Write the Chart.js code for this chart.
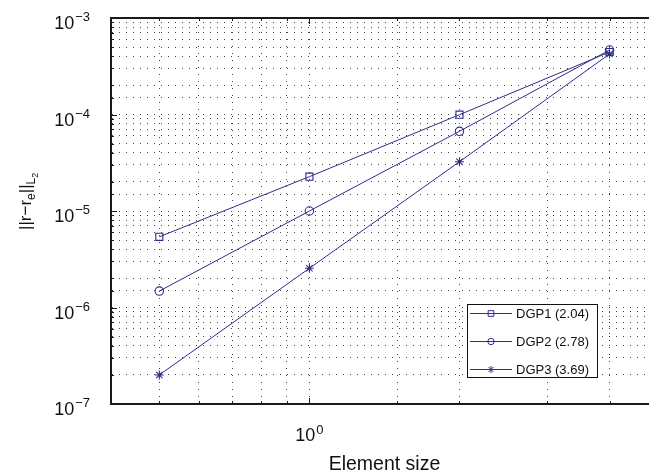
<!DOCTYPE html>
<html>
<head>
<meta charset="utf-8">
<script src="https://cdn.jsdelivr.net/npm/chart.js@4/dist/chart.umd.min.js"></script>
<style>
  html, body { margin: 0; padding: 0; background: #fff; overflow: hidden; }
  #wrap { width: 649px; height: 476px; position: relative; overflow: hidden; }
  canvas { display: block; }
</style>
</head>
<body>
<div id="wrap"><canvas id="c" width="664" height="476"></canvas></div>
<script>
// ---- data ----
const elementSize = [0.5, 1, 2, 4];
const dgp1 = [5.4e-6, 2.27e-5, 9.95e-5, 4.44e-4];
const dgp2 = [1.48e-6, 1.0e-5, 6.7e-5, 4.66e-4];
const dgp3 = [2.0e-7, 2.55e-6, 3.24e-5, 4.24e-4];
const seriesLabels = ['DGP1 (2.04)', 'DGP2 (2.78)', 'DGP3 (3.69)'];
const xAxisTitle = 'Element size';

const LINE = '#2f2c8a';
const TEXT = '#111';
const FONT = "'Liberation Sans', Arial, sans-serif";

function decadeExp(v) {
  const l = Math.log10(v);
  const r = Math.round(l);
  return Math.abs(l - r) < 1e-6 ? r : null;
}
function pts(ys) { return elementSize.map((x, i) => ({x: x, y: ys[i]})); }

const styles = ['rect', 'circle', 'star'];
const radii = [5, 4.2, 4.5];
const datasets = [dgp1, dgp2, dgp3].map((ys, i) => ({
  label: seriesLabels[i],
  data: pts(ys),
  borderColor: LINE,
  backgroundColor: 'rgba(0,0,0,0)',
  borderWidth: 1,
  pointStyle: styles[i],
  pointRadius: radii[i],
  pointBorderWidth: 1.1,
  pointBorderColor: LINE,
  pointBackgroundColor: 'rgba(0,0,0,0)',
  tension: 0
}));

// draw "10^n" with a raised exponent
function drawPow(ctx, n, x, y, align, baseDy, expDy) {
  const base = '10';
  const ex = String(n).replace('-', '\u2212');
  ctx.font = '18px ' + FONT;
  const wb = ctx.measureText(base).width;
  ctx.font = '13px ' + FONT;
  const we = ctx.measureText(ex).width;
  const total = wb + 1 + we;
  let x0 = align === 'right' ? x - total : x - total / 2;
  ctx.textAlign = 'left';
  ctx.textBaseline = 'alphabetic';
  ctx.fillStyle = TEXT;
  ctx.font = '18px ' + FONT;
  ctx.fillText(base, x0, y + baseDy);
  ctx.font = '13px ' + FONT;
  ctx.fillText(ex, x0 + wb + 1, y + expDy);
}

// frame (top line), inward tick marks, decade tick labels
const framePlugin = {
  id: 'frame',
  afterDatasetsDraw(chart) {
    const {ctx, chartArea: a, scales: {x, y}} = chart;
    ctx.save();
    ctx.strokeStyle = '#1a1a1a';
    ctx.lineWidth = 1;
    ctx.beginPath();
    x.ticks.forEach(t => {
      const px = Math.round(x.getPixelForValue(t.value)) + 0.5;
      const len = decadeExp(t.value) !== null ? 6 : 3;
      ctx.moveTo(px, a.bottom); ctx.lineTo(px, a.bottom - len);
      ctx.moveTo(px, a.top); ctx.lineTo(px, a.top + len);
    });
    y.ticks.forEach(t => {
      const py = Math.round(y.getPixelForValue(t.value)) + 0.5;
      const len = decadeExp(t.value) !== null ? 6 : 3;
      ctx.moveTo(a.left, py); ctx.lineTo(a.left + len, py);
    });
    ctx.stroke();
    ctx.lineWidth = 2;
    ctx.beginPath();
    ctx.moveTo(a.left - 1, a.top); ctx.lineTo(a.right, a.top);
    ctx.stroke();

    x.ticks.forEach(t => {
      const n = decadeExp(t.value);
      if (n === null) return;
      drawPow(ctx, n, x.getPixelForValue(t.value), a.bottom, 'center', 37, 30);
    });
    y.ticks.forEach(t => {
      const n = decadeExp(t.value);
      if (n === null) return;
      drawPow(ctx, n, 90, y.getPixelForValue(t.value), 'right', 11, 3);
    });
    ctx.restore();
  }
};

// y-axis title with subscripts
const yTitlePlugin = {
  id: 'ytitle',
  afterDraw(chart) {
    const ctx = chart.ctx;
    ctx.save();
    ctx.translate(31, 230);
    ctx.rotate(-Math.PI / 2);
    ctx.fillStyle = TEXT;
    ctx.textBaseline = 'alphabetic';
    ctx.textAlign = 'left';
    let cx = 0;
    const part = (txt, size, dy) => {
      ctx.font = size + 'px ' + FONT;
      ctx.fillText(txt, cx, dy);
      cx += ctx.measureText(txt).width;
    };
    part('||r\u2212r', 17, 0);
    part('e', 12, 4);
    part('||', 17, 0);
    part('L', 12, 4);
    part('2', 9, 7);
    ctx.restore();
  }
};

// legend box inside the plot
const legendPlugin = {
  id: 'boxlegend',
  afterDraw(chart) {
    const ctx = chart.ctx;
    const bx = 467.5, by = 304.5, bw = 130, bh = 73;
    ctx.save();
    ctx.fillStyle = '#fff';
    ctx.fillRect(bx, by, bw, bh);
    ctx.strokeStyle = '#111';
    ctx.lineWidth = 1;
    ctx.strokeRect(bx, by, bw, bh);
    chart.data.datasets.forEach((ds, i) => {
      const yy = 313 + i * 28;
      ctx.strokeStyle = ds.borderColor;
      ctx.lineWidth = 1;
      ctx.beginPath();
      ctx.moveTo(470, yy + 0.5); ctx.lineTo(512, yy + 0.5);
      ctx.stroke();
      ctx.fillStyle = 'rgba(0,0,0,0)';
      Chart.helpers.drawPoint(ctx, {pointStyle: ds.pointStyle, radius: ds.pointRadius - 1, rotation: 0, borderWidth: 1}, 491, yy + 0.5);
      ctx.fillStyle = TEXT;
      ctx.font = '13px ' + FONT;
      ctx.textBaseline = 'middle';
      ctx.textAlign = 'left';
      ctx.fillText(ds.label, 516, yy + 1);
    });
    ctx.restore();
  }
};

new Chart(document.getElementById('c'), {
  type: 'line',
  data: { datasets: datasets },
  options: {
    responsive: false,
    maintainAspectRatio: false,
    devicePixelRatio: 1,
    animation: false,
    layout: { padding: { top: 18, left: 0, right: 0, bottom: 0 } },
    plugins: { legend: { display: false }, tooltip: { enabled: false } },
    scales: {
      x: {
        type: 'logarithmic',
        min: 0.4,
        max: 5,
        grid: { color: '#444', lineWidth: 1, drawTicks: false },
        border: { display: true, color: '#1a1a1a', width: 2, dash: [1, 6] },
        ticks: { display: false, autoSkip: false },
        title: { display: true, text: xAxisTitle, color: TEXT, font: { family: FONT, size: 19.5 }, padding: { top: 0, bottom: 0 } },
        afterFit: s => { s.height = 72; s.paddingLeft = 0; s.paddingRight = 0; }
      },
      y: {
        type: 'logarithmic',
        min: 1e-7,
        max: 1e-3,
        grid: { color: '#444', lineWidth: 1, drawTicks: false },
        border: { display: true, color: '#1a1a1a', width: 2, dash: [1, 6] },
        ticks: { display: false, autoSkip: false },
        afterFit: s => { s.width = 111; s.paddingTop = 0; s.paddingBottom = 0; }
      }
    }
  },
  plugins: [framePlugin, yTitlePlugin, legendPlugin]
});
</script>
</body>
</html>
